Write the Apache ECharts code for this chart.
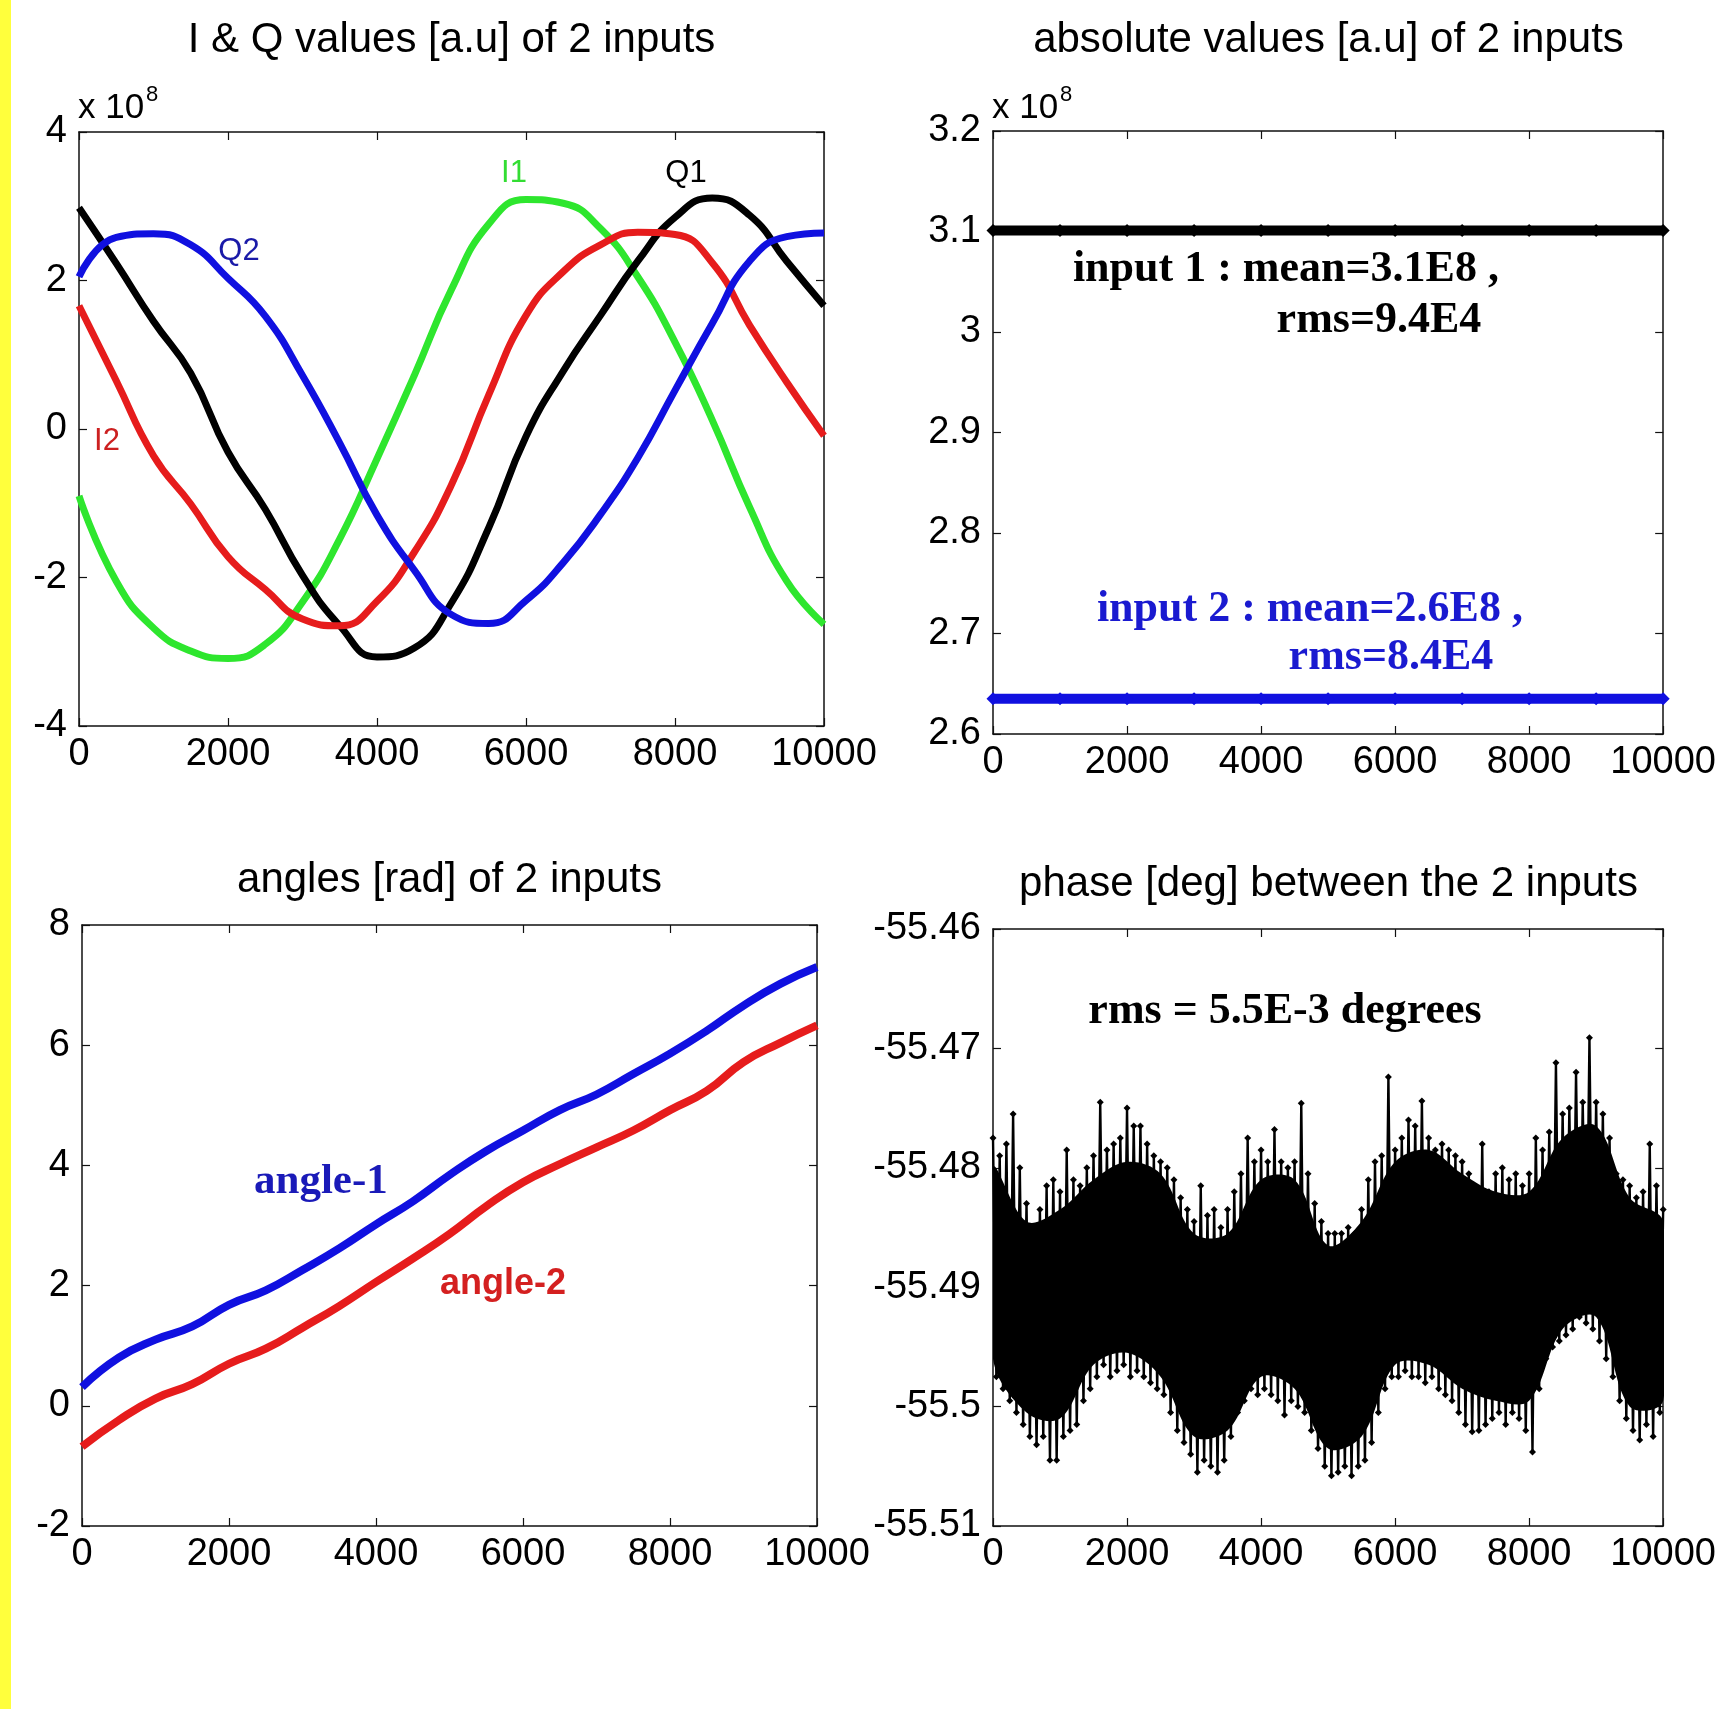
<!DOCTYPE html>
<html>
<head>
<meta charset="utf-8">
<title>I &amp; Q, amplitude, angle and phase of 2 inputs</title>
<script src="https://cdn.jsdelivr.net/npm/echarts@6/dist/echarts.min.js"></script>
<style>
  html, body { margin: 0; padding: 0; background: #fff; }
  #chart { width: 1719px; height: 1709px; }
</style>
</head>
<body>
<div id="chart"></div>
<script>
// ---- data ----
// sample positions (x axis, samples)
const sampleX = [0, 500, 1000, 1500, 2000, 2500, 3000, 3500, 4000, 4500, 5000,
  5500, 6000, 6500, 7000, 7500, 8000, 8500, 9000, 9500, 10000]

// I & Q values, units of 1e8
const i1 = [-0.90, -2.05, -2.68, -2.99, -3.09, -2.90, -2.33, -1.48, -0.40, 0.72, 1.88,
  2.76, 3.09, 3.04, 2.70, 2.05, 1.17, 0.12, -1.05, -2.05, -2.63]
const q1 = [2.98, 2.23, 1.45, 0.75, -0.31, -1.08, -1.97, -2.65, -3.07, -2.95, -2.34,
  -1.33, -0.10, 0.78, 1.53, 2.26, 2.85, 3.11, 2.88, 2.26, 1.66]
const i2 = [1.66, 0.65, -0.36, -1.01, -1.72, -2.16, -2.56, -2.65, -2.32, -1.66, -0.75,
  0.46, 1.53, 2.12, 2.48, 2.65, 2.62, 2.24, 1.40, 0.63, -0.09]
const q2 = [2.05, 2.58, 2.63, 2.48, 2.03, 1.52, 0.72, -0.19, -1.16, -1.90, -2.50,
  -2.62, -2.31, -1.80, -1.15, -0.39, 0.52, 1.42, 2.26, 2.59, 2.64]

// absolute values, units of 1e8
const absX = [0, 1000, 2000, 3000, 4000, 5000, 6000, 7000, 8000, 9000, 10000]
const abs1 = [3.101, 3.101, 3.101, 3.101, 3.101, 3.101, 3.101, 3.101, 3.101, 3.101, 3.101]
const abs2 = [2.635, 2.635, 2.635, 2.635, 2.635, 2.635, 2.635, 2.635, 2.635, 2.635, 2.635]

// angles [rad]
const angle1 = [0.31, 0.80, 1.10, 1.32, 1.68, 1.92, 2.26, 2.62, 3.02, 3.40, 3.84,
  4.24, 4.58, 4.92, 5.18, 5.52, 5.86, 6.24, 6.66, 7.02, 7.30]
const angle2 = [-0.68, -0.24, 0.12, 0.36, 0.70, 0.95, 1.30, 1.66, 2.06, 2.45, 2.86,
  3.32, 3.72, 4.02, 4.30, 4.58, 4.92, 5.24, 5.72, 6.04, 6.33]

// phase [deg]: upper spike tips at x = 0,100,...,10000
const phaseUpper = [
  -55.4775, -55.479, -55.478, -55.4755, -55.480, -55.483, -55.485, -55.4835, -55.4815, -55.481,
  -55.482, -55.4785, -55.481, -55.4815, -55.480, -55.479, -55.4745, -55.4785, -55.478, -55.4775,
  -55.475, -55.4765, -55.4765, -55.478, -55.479, -55.4795, -55.480, -55.481, -55.4825, -55.4835,
  -55.4845, -55.4815, -55.484, -55.4835, -55.485, -55.4835, -55.482, -55.4805, -55.4775, -55.4795,
  -55.4785, -55.4795, -55.4768, -55.4795, -55.480, -55.4795, -55.4746, -55.4805, -55.483, -55.4845,
  -55.4855, -55.4855, -55.4855, -55.485, -55.4855, -55.4835, -55.481, -55.4795, -55.479, -55.4724,
  -55.4785, -55.4775, -55.476, -55.4765, -55.4744, -55.4775, -55.4785, -55.478, -55.4785, -55.479,
  -55.4795, -55.4805, -55.4825, -55.478, -55.482, -55.4805, -55.480, -55.481, -55.4805, -55.4815,
  -55.4805, -55.4775, -55.4785, -55.477, -55.4712, -55.4755, -55.475, -55.472, -55.4745, -55.4691,
  -55.4745, -55.4755, -55.4775, -55.4805, -55.481, -55.4815, -55.4825, -55.482, -55.478, -55.4815,
  -55.4835
]
// phase [deg]: lower spike tips at x = 50,150,...,9950
const phaseLower = [
  -55.4975, -55.4985, -55.4995, -55.5005, -55.5015, -55.5025, -55.5032, -55.5025, -55.5045, -55.5045,
  -55.5025, -55.502, -55.5015, -55.4995, -55.4985, -55.4975, -55.4965, -55.4975, -55.497, -55.4965,
  -55.4975, -55.497, -55.4975, -55.498, -55.4985, -55.499, -55.5005, -55.502, -55.503, -55.504,
  -55.5055, -55.5045, -55.505, -55.5055, -55.5045, -55.5025, -55.5005, -55.4995, -55.4985, -55.499,
  -55.4985, -55.499, -55.4995, -55.5007, -55.4995, -55.500, -55.5005, -55.502, -55.5035, -55.505,
  -55.5058, -55.5055, -55.505, -55.5058, -55.505, -55.5045, -55.503, -55.5005, -55.4985, -55.4975,
  -55.4975, -55.497, -55.4975, -55.4975, -55.498, -55.4975, -55.4985, -55.499, -55.4995, -55.5005,
  -55.5015, -55.5021, -55.502, -55.5015, -55.501, -55.5005, -55.5015, -55.5005, -55.501, -55.502,
  -55.5038, -55.4985, -55.496, -55.495, -55.4945, -55.494, -55.4935, -55.4925, -55.493, -55.4935,
  -55.4945, -55.496, -55.4975, -55.4995, -55.501, -55.502, -55.5028, -55.5015, -55.5025, -55.5005
]
// solid black mass of the phase band, at sampleX
const coreTop = [-55.480, -55.4845, -55.4835, -55.481, -55.4795, -55.4805, -55.4855, -55.4855, -55.481, -55.481, -55.4865,
  -55.4845, -55.4795, -55.4785, -55.4805, -55.482, -55.482, -55.4775, -55.4765, -55.4825, -55.4845]
const coreBottom = [-55.496, -55.5005, -55.501, -55.4965, -55.4955, -55.4975, -55.5025, -55.502, -55.4975, -55.4985, -55.5035,
  -55.5025, -55.4965, -55.4965, -55.4985, -55.4995, -55.4995, -55.4935, -55.4925, -55.500, -55.4995]

// tick settings per panel: [min, max, interval]
const xTicks = [0, 10000, 2000]
const yTicks = [[-4, 4, 2], [2.6, 3.2, 0.1], [-2, 8, 2], [-55.51, -55.46, 0.01]]

const titles = ['I & Q values [a.u] of 2 inputs', 'absolute values [a.u] of 2 inputs',
  'angles [rad] of 2 inputs', 'phase [deg] between the 2 inputs']

// ---- layout ----
const SANS = '"Liberation Sans", Arial, sans-serif'
const SERIF = '"Liberation Serif", "Times New Roman", serif'
const GRIDS = [
  { left: 79, top: 132, width: 745, height: 594 },
  { left: 993, top: 131, width: 671, height: 603 },
  { left: 82, top: 925, width: 735, height: 601 },
  { left: 993, top: 929, width: 671, height: 597 }
]
const TITLE_Y = [40, 40, 880, 884]
const yFormat = [
  v => String(Math.round(v)),
  v => String(Math.round(v * 10) / 10),
  v => String(Math.round(v)),
  v => String(Math.round(v * 100) / 100)
]

// box axes: bottom/left carry labels, top/right only mirror the inward ticks
function makeAxes(g, isX, range, fmt) {
  const base = {
    type: 'value', gridIndex: g, min: range[0], max: range[1], interval: range[2],
    axisLine: { show: true, onZero: false, lineStyle: { color: '#111', width: 1.5 } },
    axisTick: { show: true, inside: true, length: 8, lineStyle: { color: '#111', width: 1.2 } },
    splitLine: { show: false }
  }
  return [
    Object.assign({}, base, {
      position: isX ? 'bottom' : 'left',
      axisLabel: { color: '#000', fontFamily: SANS, fontSize: 38, margin: isX ? 10 : 12, formatter: fmt }
    }),
    Object.assign({}, base, { position: isX ? 'top' : 'right', axisLabel: { show: false } })
  ]
}

const xAxis = []
const yAxis = []
GRIDS.forEach((g, i) => {
  xAxis.push(...makeAxes(i, true, xTicks, v => String(v)))
  yAxis.push(...makeAxes(i, false, yTicks[i], yFormat[i]))
})

const pairs = (xsArr, ys) => xsArr.map((x, i) => [x, ys[i]])

function lineSeries(g, name, xsArr, ys, color, width) {
  return {
    name, type: 'line', xAxisIndex: 2 * g, yAxisIndex: 2 * g,
    data: pairs(xsArr, ys), smooth: 0.5, showSymbol: false,
    lineStyle: { color, width }, itemStyle: { color }
  }
}

// phase zig-zag between the upper and lower tips
const phaseData = []
phaseUpper.forEach((v, i) => {
  phaseData.push([i * 100, v])
  if (i < phaseLower.length) phaseData.push([i * 100 + 50, phaseLower[i]])
})

const series = [
  lineSeries(0, 'I1', sampleX, i1, '#2ee62e', 7),
  lineSeries(0, 'Q1', sampleX, q1, '#000000', 7),
  lineSeries(0, 'I2', sampleX, i2, '#e61c1c', 7),
  lineSeries(0, 'Q2', sampleX, q2, '#1010e0', 7),
  {
    name: 'input 1', type: 'line', xAxisIndex: 2, yAxisIndex: 2, data: pairs(absX, abs1),
    symbol: 'diamond', symbolSize: 13, showAllSymbol: true,
    lineStyle: { color: '#000', width: 10 }, itemStyle: { color: '#000' }
  },
  {
    name: 'input 2', type: 'line', xAxisIndex: 2, yAxisIndex: 2, data: pairs(absX, abs2),
    symbol: 'diamond', symbolSize: 13, showAllSymbol: true,
    lineStyle: { color: '#1010e0', width: 10 }, itemStyle: { color: '#1010e0' }
  },
  lineSeries(2, 'angle-1', sampleX, angle1, '#1010e0', 8),
  lineSeries(2, 'angle-2', sampleX, angle2, '#e61c1c', 8),
  {
    name: 'phase core', type: 'custom', xAxisIndex: 6, yAxisIndex: 6, clip: true,
    data: [[sampleX[0], coreTop[0]]],
    renderItem: (params, api) => {
      const pts = sampleX.map((x, i) => api.coord([x, coreTop[i]]))
      for (let i = sampleX.length - 1; i >= 0; i--) pts.push(api.coord([sampleX[i], coreBottom[i]]))
      return { type: 'polygon', shape: { points: pts, smooth: 0.35 }, style: { fill: '#000' } }
    }
  },
  {
    name: 'phase', type: 'line', xAxisIndex: 6, yAxisIndex: 6, data: phaseData,
    symbol: 'diamond', symbolSize: 7, showAllSymbol: true,
    lineStyle: { color: '#000', width: 2.4 }, itemStyle: { color: '#000' }
  }
]

// text notes placed in data coordinates: [seriesIndex, x, y]
const notes = [
  { s: 0, at: [5839, 3.448], text: 'I1', color: '#33dd33', family: SANS, size: 31, weight: 'normal', align: 'center' },
  { s: 0, at: [8148, 3.448], text: 'Q1', color: '#000', family: SANS, size: 31, weight: 'normal', align: 'center' },
  { s: 0, at: [2148, 2.397], text: 'Q2', color: '#1a1aa8', family: SANS, size: 31, weight: 'normal', align: 'center' },
  { s: 0, at: [376, -0.162], text: 'I2', color: '#cc2020', family: SANS, size: 31, weight: 'normal', align: 'center' },
  { s: 4, at: [1192, 3.0617], text: 'input 1 : mean=3.1E8 ,', color: '#000', family: SERIF, size: 44, weight: 'bold', align: 'left' },
  { s: 4, at: [4232, 3.011], text: 'rms=9.4E4', color: '#000', family: SERIF, size: 44, weight: 'bold', align: 'left' },
  { s: 4, at: [1550, 2.7234], text: 'input 2 : mean=2.6E8 ,', color: '#1a1ad0', family: SERIF, size: 44, weight: 'bold', align: 'left' },
  { s: 4, at: [4411, 2.6756], text: 'rms=8.4E4', color: '#1a1ad0', family: SERIF, size: 44, weight: 'bold', align: 'left' },
  { s: 6, at: [2340, 3.724], text: 'angle-1', color: '#1a1ab8', family: SERIF, size: 43, weight: 'bold', align: 'left' },
  { s: 6, at: [4871, 2.032], text: 'angle-2', color: '#d42020', family: SANS, size: 36, weight: 'bold', align: 'left' },
  { s: 9, at: [1423, -55.46695], text: 'rms = 5.5E-3 degrees', color: '#000', family: SERIF, size: 44, weight: 'bold', align: 'left' }
]

function textEl(x, y, text, size, family, weight, color, align) {
  return {
    type: 'text', x, y, z: 100,
    style: {
      text, fontSize: size, fontFamily: family, fontWeight: weight, fill: color,
      align, textAlign: align, verticalAlign: 'middle', textVerticalAlign: 'middle'
    }
  }
}

const chart = echarts.init(document.getElementById('chart'), null, { renderer: 'canvas' })

chart.setOption({
  animation: false,
  backgroundColor: '#ffffff',
  grid: GRIDS.map(g => Object.assign({ show: false, containLabel: false }, g)),
  xAxis,
  yAxis,
  series
})

// static texts: yellow strip, titles, exponent marks, notes
const graphic = [
  { type: 'rect', shape: { x: 0, y: 0, width: 11, height: 1709 }, style: { fill: '#ffff3c' }, z: 100 }
]
GRIDS.forEach((g, i) => {
  graphic.push(textEl(g.left + g.width / 2, TITLE_Y[i], titles[i], 42, SANS, 'normal', '#000', 'center'))
})
;[0, 1].forEach(i => {
  const g = GRIDS[i]
  graphic.push(textEl(g.left - 1, 108, 'x 10', 35, SANS, 'normal', '#000', 'left'))
  graphic.push(textEl(g.left + 67, 95, '8', 22, SANS, 'normal', '#000', 'left'))
})
notes.forEach(n => {
  const p = chart.convertToPixel({ seriesIndex: n.s }, n.at)
  graphic.push(textEl(p[0], p[1], n.text, n.size, n.family, n.weight, n.color, n.align))
})

chart.setOption({ graphic })
</script>
</body>
</html>
